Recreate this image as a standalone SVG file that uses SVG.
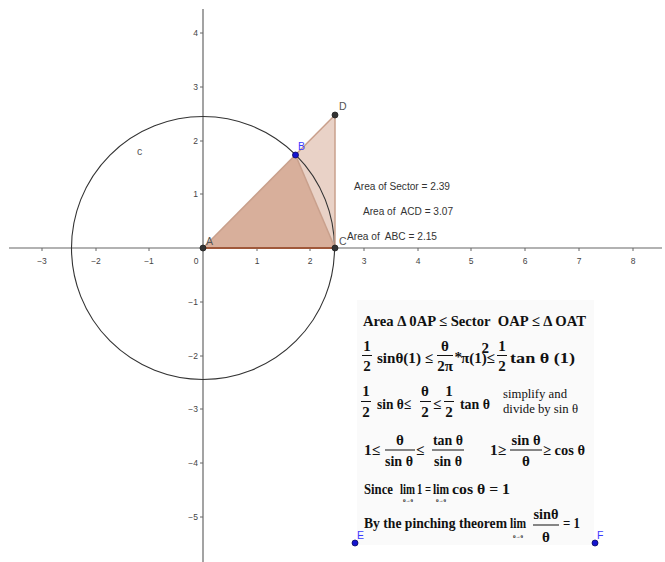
<svg xmlns="http://www.w3.org/2000/svg" width="665" height="562" viewBox="0 0 665 562">
<style>
.ax{stroke:#666;stroke-width:1.2;fill:none}
.tk{stroke:#666;stroke-width:1}
.al{font-family:"Liberation Sans",Arial,sans-serif;font-size:8.5px;fill:#444}
.lbl{font-family:"Liberation Sans",Arial,sans-serif;font-size:10.5px;fill:#555}
.blue{fill:#3a3aff}
.info{font-family:"Liberation Sans",Arial,sans-serif;font-size:10px;fill:#333}
.poly{fill:rgb(153,51,0);fill-opacity:0.22;stroke:none}
.edge{stroke:#c9a08c;stroke-width:1.5;fill:none}
.pt{fill:#333;stroke:#222;stroke-width:0.8}
.ptb{fill:#1414d0;stroke:#0a0a60;stroke-width:0.8}
.m{font-family:"Liberation Serif","Times New Roman",serif;font-weight:bold;font-size:15px;fill:#111}
.mc{font-family:"Liberation Serif","Times New Roman",serif;font-weight:bold;font-size:15px;fill:#111;text-anchor:middle}
.r{font-family:"Liberation Serif","Times New Roman",serif;font-size:12.8px;fill:#111}
.sub{font-family:"Liberation Serif","Times New Roman",serif;font-weight:bold;font-size:5px;fill:#111;text-anchor:middle}
.bar{stroke:#111;stroke-width:1}
</style>
<rect width="665" height="562" fill="#ffffff"/>
<g id="axes">
<line class="ax" x1="9" y1="248" x2="662" y2="248"/>
<line class="ax" x1="203" y1="9" x2="203" y2="562"/>
<g class="tk">
<line x1="42" y1="248" x2="42" y2="251"/><line x1="96" y1="248" x2="96" y2="251"/><line x1="149" y1="248" x2="149" y2="251"/>
<line x1="257" y1="248" x2="257" y2="251"/><line x1="310" y1="248" x2="310" y2="251"/><line x1="364" y1="248" x2="364" y2="251"/>
<line x1="418" y1="248" x2="418" y2="251"/><line x1="471" y1="248" x2="471" y2="251"/><line x1="525" y1="248" x2="525" y2="251"/>
<line x1="579" y1="248" x2="579" y2="251"/><line x1="633" y1="248" x2="633" y2="251"/>
<line x1="200" y1="33" x2="203" y2="33"/><line x1="200" y1="87" x2="203" y2="87"/><line x1="200" y1="141" x2="203" y2="141"/><line x1="200" y1="194" x2="203" y2="194"/>
<line x1="200" y1="302" x2="203" y2="302"/><line x1="200" y1="356" x2="203" y2="356"/><line x1="200" y1="409" x2="203" y2="409"/><line x1="200" y1="463" x2="203" y2="463"/><line x1="200" y1="517" x2="203" y2="517"/>
</g>
<g class="al" text-anchor="middle">
<text x="42" y="264">−3</text><text x="96" y="264">−2</text><text x="149" y="264">−1</text><text x="196" y="264">0</text>
<text x="257" y="264">1</text><text x="310" y="264">2</text><text x="364" y="264">3</text><text x="418" y="264">4</text>
<text x="471" y="264">5</text><text x="525" y="264">6</text><text x="579" y="264">7</text><text x="633" y="264">8</text>
</g>
<g class="al" text-anchor="end">
<text x="198" y="36">4</text><text x="198" y="90">3</text><text x="198" y="144">2</text><text x="198" y="197">1</text>
<text x="198" y="305">−1</text><text x="198" y="359">−2</text><text x="198" y="412">−3</text><text x="198" y="466">−4</text><text x="198" y="520">−5</text>
</g>
</g>
<g id="polyACD"><polygon class="poly" points="203,248 335,248 335,115"/></g>
<g id="polyABC"><polygon class="poly" points="203,248 295.5,155 335,248"/></g>
<g id="circle-c">
<circle cx="203" cy="248" r="131.5" fill="none" stroke="#333" stroke-width="1.1"/>
<text class="lbl" x="137" y="155" font-size="9px">c</text>
</g>
<g id="connectors">
<line class="edge" x1="203" y1="248" x2="335" y2="115"/>
<line class="edge" x1="335" y1="115" x2="335" y2="248"/>
<line class="edge" x1="295.5" y1="155" x2="335" y2="248" stroke-width="1"/>
<line x1="203" y1="248" x2="335" y2="248" stroke="#a0583a" stroke-width="2"/>
<line x1="355" y1="543" x2="595" y2="543" stroke="#cfcfcf" stroke-width="1"/>
</g>
<g id="pointA"><circle class="pt" cx="203" cy="248" r="3"/><text class="lbl" x="206" y="245">A</text></g>
<g id="pointB"><circle class="ptb" cx="295.5" cy="155" r="3"/><text class="lbl blue" x="298" y="150">B</text></g>
<g id="pointC"><circle class="pt" cx="335" cy="248" r="3"/><text class="lbl" x="339" y="245">C</text></g>
<g id="pointD"><circle class="pt" cx="335" cy="115" r="3"/><text class="lbl" x="339" y="110">D</text></g>
<g id="areas">
<text class="info" x="354" y="190" textLength="96" lengthAdjust="spacingAndGlyphs">Area of Sector = 2.39</text>
<text class="info" x="363" y="215" textLength="90" lengthAdjust="spacingAndGlyphs">Area of&#160; ACD = 3.07</text>
<text class="info" x="347" y="240" textLength="90" lengthAdjust="spacingAndGlyphs">Area of&#160; ABC = 2.15</text>
</g>
<g id="formulas">
<rect x="357" y="300" width="237" height="245" fill="#fafafa"/>
<text class="m" x="363" y="326" font-size="14.4px" textLength="223" lengthAdjust="spacingAndGlyphs">Area Δ 0AP ≤ Sector&#160; OAP ≤ Δ OAT</text>
<text class="mc" x="367" y="351">1</text><line class="bar" x1="362" y1="355.5" x2="372" y2="355.5"/><text class="mc" x="367" y="371">2</text>
<text class="m" x="377" y="363" textLength="56" lengthAdjust="spacingAndGlyphs">sinθ(1) ≤</text>
<text class="mc" x="445" y="351">θ</text><line class="bar" x1="437" y1="355.5" x2="453" y2="355.5"/><text class="mc" x="445" y="371">2π</text>
<text class="m" x="454.5" y="362" font-size="9px">*</text>
<text class="m" x="461" y="363" font-size="11.5px">π(1)</text>
<text class="m" x="481.5" y="353" font-size="7px">2</text>
<text class="m" x="486.5" y="363" font-size="12px">≤</text>
<text class="mc" x="502" y="351">1</text><line class="bar" x1="497" y1="355.5" x2="507" y2="355.5"/><text class="mc" x="502" y="371">2</text>
<text class="m" x="510" y="363" font-size="16px" textLength="65" lengthAdjust="spacingAndGlyphs">tan θ (1)</text>
<text class="mc" x="366" y="396">1</text><line class="bar" x1="361" y1="401.5" x2="371" y2="401.5"/><text class="mc" x="366" y="417">2</text>
<text class="m" x="377" y="409" font-size="14px" textLength="34" lengthAdjust="spacingAndGlyphs">sin θ≤</text>
<text class="mc" x="425" y="396">θ</text><line class="bar" x1="420" y1="401.5" x2="431" y2="401.5"/><text class="mc" x="425" y="417">2</text>
<text class="m" x="433" y="409" font-size="14px">≤</text>
<text class="mc" x="449" y="396">1</text><line class="bar" x1="444" y1="401.5" x2="454" y2="401.5"/><text class="mc" x="449" y="417">2</text>
<text class="m" x="460" y="409" font-size="14px" textLength="30" lengthAdjust="spacingAndGlyphs">tan θ</text>
<text class="r" x="503" y="398" textLength="64" lengthAdjust="spacingAndGlyphs">simplify and</text>
<text class="r" x="503" y="413" textLength="75" lengthAdjust="spacingAndGlyphs">divide by sin θ</text>
<text class="m" x="364" y="455" textLength="16" lengthAdjust="spacingAndGlyphs">1≤</text>
<text class="mc" x="400" y="445" font-size="14px">θ</text><line class="bar" x1="385" y1="450" x2="415" y2="450"/><text class="mc" x="399" y="466" font-size="14px" textLength="28" lengthAdjust="spacingAndGlyphs">sin θ</text>
<text class="m" x="416" y="455" font-size="14px">≤</text>
<text class="mc" x="448" y="445" font-size="14px" textLength="30" lengthAdjust="spacingAndGlyphs">tan θ</text><line class="bar" x1="432" y1="450" x2="464" y2="450"/><text class="mc" x="448" y="466" font-size="14px" textLength="28" lengthAdjust="spacingAndGlyphs">sin θ</text>
<text class="m" x="490" y="455" textLength="16" lengthAdjust="spacingAndGlyphs">1≥</text>
<text class="mc" x="526" y="445" font-size="14px" textLength="29" lengthAdjust="spacingAndGlyphs">sin θ</text><line class="bar" x1="510" y1="450" x2="542" y2="450"/><text class="mc" x="526" y="466" font-size="14px">θ</text>
<text class="m" x="543" y="455" font-size="14.5px" textLength="42" lengthAdjust="spacingAndGlyphs">≥ cos θ</text>
<text class="m" x="364" y="494" font-size="13px" textLength="29" lengthAdjust="spacingAndGlyphs">Since</text>
<text class="m" x="400" y="494" font-size="11px" textLength="15" lengthAdjust="spacingAndGlyphs">lim</text><text class="sub" x="408" y="502">θ→0</text>
<text class="m" x="417" y="494" font-size="11px" textLength="14" lengthAdjust="spacingAndGlyphs">1 =</text>
<text class="m" x="433" y="494" font-size="11.5px" textLength="16" lengthAdjust="spacingAndGlyphs">lim</text><text class="sub" x="441" y="502">θ→0</text>
<text class="m" x="452" y="494" font-size="14px" textLength="58" lengthAdjust="spacingAndGlyphs">cos θ = 1</text>
<text class="m" x="364" y="528" font-size="13.6px" textLength="143" lengthAdjust="spacingAndGlyphs">By the pinching theorem</text>
<text class="m" x="510" y="528" font-size="12px" textLength="16" lengthAdjust="spacingAndGlyphs">lim</text><text class="sub" x="518" y="538">θ→0</text>
<text class="mc" x="546" y="519" font-size="14px" textLength="25" lengthAdjust="spacingAndGlyphs">sinθ</text><line class="bar" x1="533" y1="525" x2="559" y2="525"/><text class="mc" x="546" y="542" font-size="14px">θ</text>
<text class="m" x="563" y="528" font-size="13px" textLength="17" lengthAdjust="spacingAndGlyphs">= 1</text>
</g>
<g id="pointE"><circle class="ptb" cx="355" cy="543" r="3"/><text class="lbl blue" x="357" y="539">E</text></g>
<g id="pointF"><circle class="ptb" cx="595" cy="543" r="3"/><text class="lbl blue" x="597" y="539">F</text></g>
</svg>
